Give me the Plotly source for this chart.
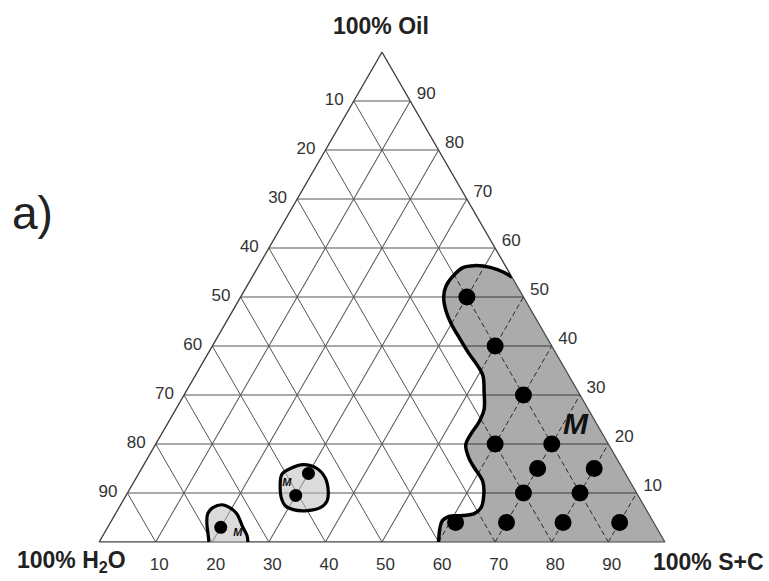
import numpy as np
import plotly.graph_objects as go

# ---------------- data ----------------
tick_vals = [10, 20, 30, 40, 50, 60, 70, 80, 90]
tick_text = ["90", "80", "70", "60", "50", "40", "30", "20", "10"]

# main microemulsion region boundary (Oil %, S+C %), top to bottom
m_oil = [54, 55, 56, 56.4, 56, 54.2, 52.2, 50, 47.2, 44.6, 41.9, 38.5, 35.9, 33.9, 30.5,
         27.1, 24.5, 22, 19.8, 17, 15, 12.4, 9.8, 7, 5.8, 5.4, 5.2, 4.4, 2.9, 0]
m_sc = [46, 44.1, 41.3, 38.1, 36.3, 35.4, 35.2, 35.9, 37.7, 39.9, 42.6, 46.1, 49, 50.9, 52.8,
        54.5, 54.9, 54.7, 54.9, 56.9, 58.9, 61.6, 63.1, 64, 63.4, 61.6, 59.2, 58.5, 58.8, 60]

# small closed island
i2_oil = [11, 13.8, 15, 15.8, 15, 13, 10.4, 8.4, 7, 6.4, 6.6, 7.4, 9, 11]
i2_sc = [26.5, 25.4, 26.3, 28.2, 31, 33.5, 35.3, 36.1, 35.6, 33.6, 31, 29.2, 27.7, 26.5]

# small island at the base
i1_oil = [0, 1.7, 3.7, 5.8, 7, 7.6, 7, 5.8, 2.9, 1.3, 0]
i1_sc = [19.4, 18.4, 17.2, 16.3, 16.6, 17.9, 19.6, 21.4, 24, 25.5, 26.3]

# measured compositions (black dots)
pts_oil = [50, 40, 30, 20, 20, 15, 15, 10, 10, 4, 4, 4, 4]
pts_sc = [40, 50, 60, 60, 70, 70, 80, 70, 80, 61, 70, 80, 90]
spts_oil = [14, 9.5, 3]
spts_sc = [30, 30, 20]

# "M" labels (Oil, S+C, size)
lab_oil = [23.6, 12.0, 1.8]
lab_sc = [72.4, 27.2, 23.6]
lab_size = [30, 11, 11]

FONT = "Arial, Liberation Sans, sans-serif"
S3 = np.sqrt(3) / 2


def xy(a, c):
    a = np.asarray(a, float)
    c = np.asarray(c, float)
    return c + a / 2, a * S3


def inside(px, py, qx, qy):
    res = np.zeros(px.shape, bool)
    n = len(qx)
    j = n - 1
    for i in range(n):
        xi, yi, xj, yj = qx[i], qy[i], qx[j], qy[j]
        dy = (yj - yi) if yj != yi else 1e-12
        cond = ((yi > py) != (yj > py)) & (px < (xj - xi) * (py - yi) / dy + xi)
        res ^= cond
        j = i
    return res


# polygon of main region (boundary + base corner + back along right edge)
poly_a = list(m_oil) + [0, m_oil[0]]
poly_c = list(m_sc) + [100, m_sc[0]]
qx, qy = xy(poly_a, poly_c)


def clipped(kind):
    A, C = [], []
    for v in tick_vals:
        t = np.linspace(0, 100 - v, 800)
        if kind == "a":
            a = np.full_like(t, v); c = t
        elif kind == "b":
            a = t; c = 100 - v - t
        else:
            a = t; c = np.full_like(t, v)
        px, py = xy(a, c)
        m = inside(px, py, qx, qy)
        if not m.any():
            continue
        idx = np.where(m)[0]
        splits = np.where(np.diff(idx) > 1)[0]
        starts = np.r_[idx[0], idx[splits + 1]]
        ends = np.r_[idx[splits], idx[-1]]
        for s, e in zip(starts, ends):
            A += [a[s], a[e], None]
            C += [c[s], c[e], None]
    return A, C


fig = go.Figure()

# grey region fill
fig.add_trace(go.Scatterternary(a=poly_a, c=poly_c, mode="lines", fill="toself",
                                fillcolor="#ababab", line=dict(width=0, color="rgba(0,0,0,0)"),
                                hoverinfo="skip", cliponaxis=False))
# grid inside region
ha, hc = clipped("a")
fig.add_trace(go.Scatterternary(a=ha, c=hc, mode="lines", line=dict(color="#3a3a3a", width=1),
                                hoverinfo="skip"))
for k in ("b", "c"):
    da, dc = clipped(k)
    fig.add_trace(go.Scatterternary(a=da, c=dc, mode="lines",
                                    line=dict(color="#2a2a2a", width=1, dash="5px,3px"),
                                    hoverinfo="skip"))

# triangle outline on top
fig.add_trace(go.Scatterternary(a=[100, 0, 0, 100], c=[0, 0, 100, 0], mode="lines",
                                line=dict(color="#444", width=1.2), hoverinfo="skip",
                                cliponaxis=False))

# islands
fig.add_trace(go.Scatterternary(a=i2_oil, c=i2_sc, mode="lines", fill="toself",
                                fillcolor="rgba(190,190,190,0.55)",
                                line=dict(color="black", width=3.2, shape="spline"),
                                hoverinfo="skip"))
fig.add_trace(go.Scatterternary(a=i1_oil, c=i1_sc, mode="lines", fill="toself",
                                fillcolor="rgba(190,190,190,0.55)",
                                line=dict(color="black", width=3.2, shape="spline"),
                                hoverinfo="skip", cliponaxis=False))

# dots
fig.add_trace(go.Scatterternary(a=pts_oil, c=pts_sc, mode="markers",
                                marker=dict(color="black", size=17), hoverinfo="skip"))
fig.add_trace(go.Scatterternary(a=spts_oil, c=spts_sc, mode="markers",
                                marker=dict(color="black", size=13), hoverinfo="skip"))

# main boundary
fig.add_trace(go.Scatterternary(a=m_oil, c=m_sc, mode="lines",
                                line=dict(color="black", width=3.5, shape="spline"),
                                hoverinfo="skip", cliponaxis=False))

# M labels
fig.add_trace(go.Scatterternary(a=lab_oil, c=lab_sc, mode="text",
                                text=["<b><i>M</i></b>"] * 3,
                                textfont=dict(family=FONT, size=lab_size, color="#111"),
                                hoverinfo="skip", cliponaxis=False))

axis_common = dict(tickmode="array", tickvals=tick_vals, ticktext=tick_text,
                   tickfont=dict(family=FONT, size=17, color="#333"),
                   showgrid=True, gridcolor="#555", gridwidth=1,
                   showline=True, linecolor="#444", linewidth=1.2,
                   ticks="outside", ticklen=7, tickcolor="rgba(0,0,0,0)",
                   layer="below traces", min=0, title=dict(text=""))

fig.update_layout(
    width=769, height=581,
    margin=dict(l=99, r=104, t=52, b=39),
    paper_bgcolor="white",
    showlegend=False,
    ternary=dict(sum=100, bgcolor="white",
                 aaxis=axis_common, baxis=axis_common, caxis=axis_common),
    annotations=[
        dict(text="<b>100% Oil</b>", x=0.498, y=1.053, xref="paper", yref="paper",
             showarrow=False, font=dict(family=FONT, size=23, color="#222"),
             xanchor="center", yanchor="middle"),
        dict(text="<b>100% H<sub>2</sub>O</b>", x=-0.048, y=-0.04, xref="paper", yref="paper",
             showarrow=False, font=dict(family=FONT, size=23, color="#222"),
             xanchor="center", yanchor="middle"),
        dict(text="<b>100% S+C</b>", x=1.076, y=-0.04, xref="paper", yref="paper",
             showarrow=False, font=dict(family=FONT, size=23, color="#222"),
             xanchor="center", yanchor="middle"),
        dict(text="a)", x=-0.118, y=0.672, xref="paper", yref="paper",
             showarrow=False, font=dict(family=FONT, size=46, color="#222"),
             xanchor="center", yanchor="middle"),
    ],
)

fig.write_html("out.html")
